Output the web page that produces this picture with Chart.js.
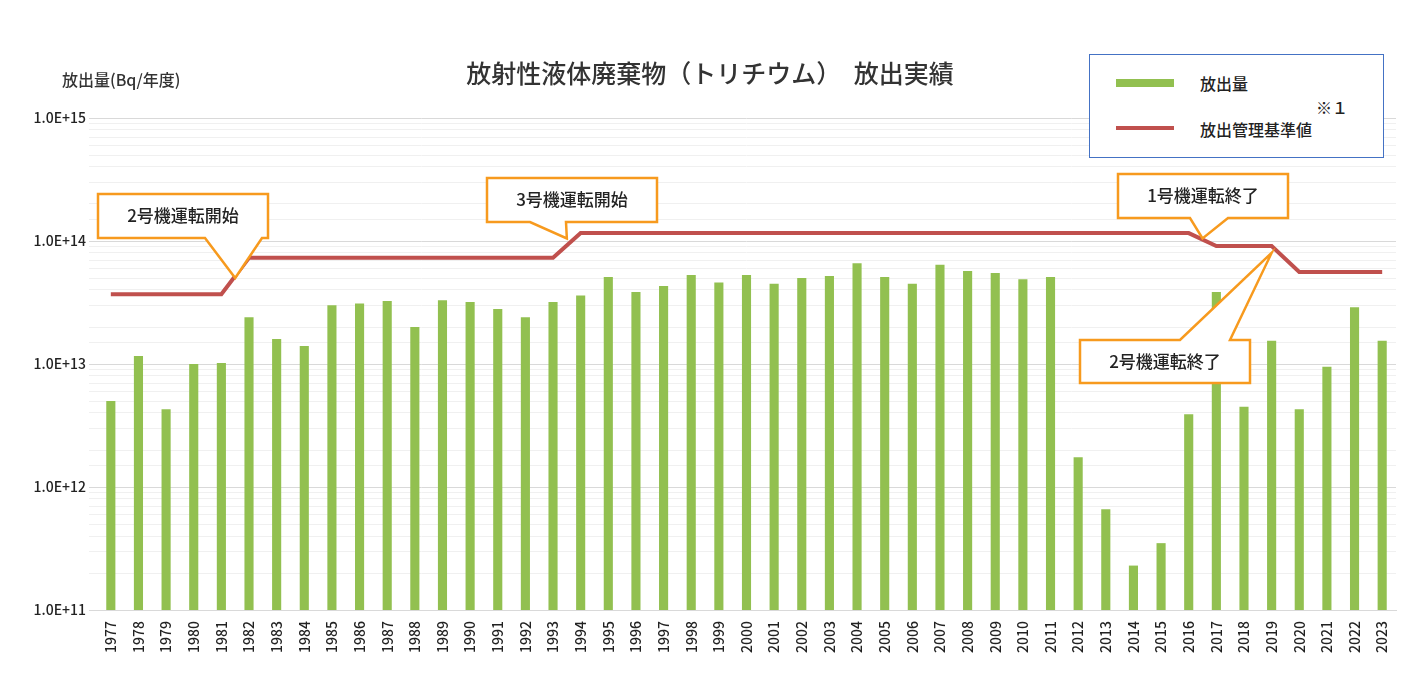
<!DOCTYPE html>
<html lang="ja">
<head>
<meta charset="UTF-8">
<title>放射性液体廃棄物（トリチウム） 放出実績</title>
<script src="https://cdn.jsdelivr.net/npm/chart.js"></script>
<style>
  body { margin: 0; background: #fff; font-family: 'Noto Sans CJK JP', sans-serif; }
  .wrap { position: relative; width: 1416px; height: 696px; }
  .legend { position: absolute; left: 1089px; top: 54px; width: 293px; height: 102px; border: 1px solid #4472c4; background: #fff; font-size: 16px; color: #222; font-weight: 500; }
  .legend .sw { position: absolute; left: 26px; width: 58px; }
</style>
</head>
<body>
<div class="wrap">
  <canvas id="c" width="1416" height="696"></canvas>
  <div class="legend">
    <div class="sw" style="top:24px;height:8px;background:#92c050"></div>
    <div style="position:absolute;left:110px;top:16px">放出量</div>
    <div style="position:absolute;left:226px;top:40px">※１</div>
    <div class="sw" style="top:71px;height:4px;background:#c0504d"></div>
    <div style="position:absolute;left:110px;top:62px">放出管理基準値</div>
  </div>
</div>
<script>
const years = ['1977','1978','1979','1980','1981','1982','1983','1984','1985','1986','1987','1988','1989','1990','1991','1992','1993','1994','1995','1996','1997','1998','1999','2000','2001','2002','2003','2004','2005','2006','2007','2008','2009','2010','2011','2012','2013','2014','2015','2016','2017','2018','2019','2020','2021','2022','2023'];
const released = [5.0e12,1.16e13,4.3e12,1.0e13,1.02e13,2.4e13,1.6e13,1.4e13,3.0e13,3.1e13,3.25e13,2.0e13,3.3e13,3.2e13,2.8e13,2.4e13,3.2e13,3.6e13,5.1e13,3.85e13,4.3e13,5.3e13,4.6e13,5.3e13,4.5e13,5.0e13,5.2e13,6.6e13,5.1e13,4.5e13,6.4e13,5.7e13,5.5e13,4.9e13,5.1e13,1.75e12,6.6e11,2.3e11,3.5e11,3.9e12,3.85e13,4.5e12,1.55e13,4.3e12,9.5e12,2.9e13,1.55e13];
const limit = [3.7e13,3.7e13,3.7e13,3.7e13,3.7e13,7.3e13,7.3e13,7.3e13,7.3e13,7.3e13,7.3e13,7.3e13,7.3e13,7.3e13,7.3e13,7.3e13,7.3e13,1.16e14,1.16e14,1.16e14,1.16e14,1.16e14,1.16e14,1.16e14,1.16e14,1.16e14,1.16e14,1.16e14,1.16e14,1.16e14,1.16e14,1.16e14,1.16e14,1.16e14,1.16e14,1.16e14,1.16e14,1.16e14,1.16e14,1.16e14,9.1e13,9.1e13,9.1e13,5.6e13,5.6e13,5.6e13,5.6e13];
const majorTicks = [1e11,1e12,1e13,1e14,1e15];

const FONT = "'Noto Sans CJK JP', sans-serif";

// callouts: [text, box x,y,w,h, side, pointer base x1, x2, tip between years, tip value]
const callouts = [
  ['2号機運転開始', 98,194,170,44, 'bottom', 205,262, ['1981','1982'], 5.0e13],
  ['3号機運転開始', 487,178,170,44, 'bottom', 530,566, ['1993','1994'], 1.05e14],
  ['1号機運転終了', 1118,174,170,44, 'bottom', 1190,1228, ['2016','2017'], 1.05e14],
  ['2号機運転終了', 1080,340,170,43, 'top', 1180,1230, ['2019','2019'], 8.0e13]
];

const decor = {
  id: 'decor',
  afterDraw(chart) {
    const ctx = chart.ctx, xs = chart.scales.x, ys = chart.scales.y;
    ctx.save();
    ctx.fillStyle = '#333';
    ctx.font = '500 25px ' + FONT;
    ctx.textAlign = 'center'; ctx.textBaseline = 'middle';
    ctx.fillText('放射性液体廃棄物（トリチウム）　放出実績', 710, 73);
    ctx.font = '500 16px ' + FONT;
    ctx.textAlign = 'left';
    ctx.fillText('放出量(Bq/年度)', 62, 80);
    callouts.forEach(([t, x, y, w, h, side, b1, b2, yrs, v]) => {
      const tx = (xs.getPixelForValue(years.indexOf(yrs[0])) + xs.getPixelForValue(years.indexOf(yrs[1]))) / 2;
      const ty = ys.getPixelForValue(v);
      ctx.beginPath();
      ctx.moveTo(x, y);
      if (side === 'top') { ctx.lineTo(b1, y); ctx.lineTo(tx, ty); ctx.lineTo(b2, y); }
      ctx.lineTo(x + w, y); ctx.lineTo(x + w, y + h);
      if (side === 'bottom') { ctx.lineTo(b2, y + h); ctx.lineTo(tx, ty); ctx.lineTo(b1, y + h); }
      ctx.lineTo(x, y + h); ctx.closePath();
      ctx.fillStyle = '#fff'; ctx.fill();
      ctx.strokeStyle = '#f79a1e'; ctx.lineWidth = 2.5; ctx.stroke();
      ctx.fillStyle = '#222'; ctx.font = '500 17px ' + FONT; ctx.textAlign = 'center';
      ctx.fillText(t, x + w / 2, y + h / 2);
    });
    ctx.restore();
  }
};

new Chart(document.getElementById('c'), {
  data: {
    labels: years,
    datasets: [
      { type: 'line', data: limit, borderColor: '#c0504d', borderWidth: 4, pointRadius: 0, tension: 0, order: 0 },
      { type: 'bar', data: released, backgroundColor: '#92c050', barPercentage: 0.33, categoryPercentage: 1, order: 1 }
    ]
  },
  options: {
    responsive: false,
    animation: false,
    layout: { padding: { left: 10, right: 20, top: 118, bottom: 40 } },
    plugins: { legend: { display: false }, tooltip: { enabled: false } },
    scales: {
      x: {
        grid: { display: false },
        border: { color: '#d9d9d9' },
        ticks: { color: '#222', font: { size: 14, family: FONT, weight: 500 }, minRotation: 90, maxRotation: 90, autoSkip: false }
      },
      y: {
        type: 'logarithmic', min: 1e11, max: 1e15,
        afterFit(s) { s.width = 87; },
        border: { display: false },
        grid: { color: ctx => majorTicks.includes(ctx.tick && ctx.tick.value) ? '#d9d9d9' : '#f0f0f0' },
        ticks: {
          color: '#222', font: { size: 14, family: FONT, weight: 500 }, autoSkip: false,
          callback: v => majorTicks.includes(v) ? '1.0E+' + Math.round(Math.log10(v)) : ''
        }
      }
    }
  },
  plugins: [decor]
});
</script>
</body>
</html>
